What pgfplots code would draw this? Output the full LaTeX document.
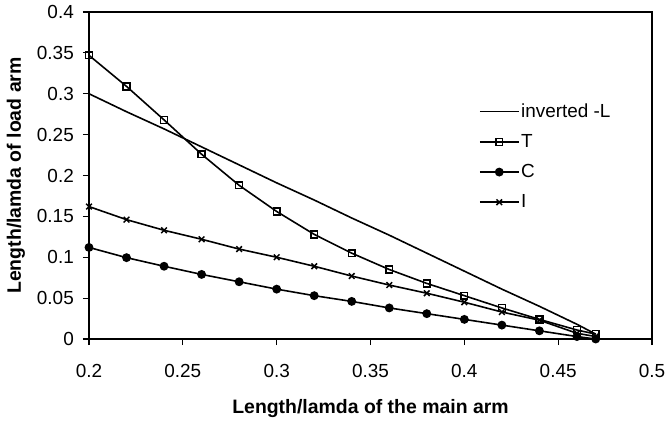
\documentclass[border=0pt]{standalone}
\usepackage{pgfplots}
\pgfplotsset{compat=1.18}
\usepackage{fontspec}
\setmainfont{Liberation Sans}
\begin{document}
\begin{tikzpicture}
\useasboundingbox (-89bp,-82bp) rectangle (579bp,339bp);
\begin{axis}[
  scale only axis,
  width=563bp, height=327bp,
  xmin=0.2, xmax=0.5, ymin=0, ymax=0.4,
  xtick={0.2,0.25,...,0.5},
  ytick={0,0.05,...,0.4},
  xticklabels={0.2,0.25,0.3,0.35,0.4,0.45,0.5},
  yticklabels={0,0.05,0.1,0.15,0.2,0.25,0.3,0.35,0.4},
  tick align=outside,
  major tick length=6bp,
  tick style={black, line width=1.2pt},
  xtick pos=bottom, ytick pos=left,
  axis line style={line width=1.5pt},
  every tick label/.append style={font=\fontsize{19}{22}\selectfont},
  xticklabel style={anchor=north, inner sep=0pt, yshift=-19bp},
  yticklabel style={anchor=east, inner sep=0pt, xshift=-9bp},
  label style={font=\fontsize{19.5}{23}\selectfont\bfseries},
  xlabel={Length/lamda of the main arm},
  ylabel={Length/lamda of load arm},
  xlabel style={at={(axis description cs:0.5,-0.2263)}, anchor=base},
  ylabel style={at={(axis description cs:-0.1297,0.5)}, anchor=center},
  legend style={at={(axis description cs:0.687,0.730)}, anchor=north west, draw=none, fill=none,
    font=\fontsize{19}{22}\selectfont, row sep=12.5bp,
    nodes={inner sep=1.5bp}, cells={anchor=west}},
  legend image code/.code={\draw[#1, mark repeat=2, mark phase=2] plot coordinates {(0bp,0bp) (19.5bp,0bp) (39bp,0bp)};},
]
\addplot[black, line width=1.6pt] coordinates {
(0.20,0.300) (0.22,0.278) (0.24,0.257) (0.26,0.235) (0.28,0.213) (0.30,0.191)
(0.32,0.170) (0.34,0.148) (0.36,0.127) (0.38,0.105) (0.40,0.083) (0.42,0.061)
(0.44,0.040) (0.46,0.018) (0.47,0.006)};
\addlegendentry{inverted -L}
\addplot[black, line width=1.6pt, mark=square, mark size=3.4bp, mark options={line width=1.5pt, fill=white}] coordinates {
(0.20,0.347) (0.22,0.309) (0.24,0.268) (0.26,0.226) (0.28,0.188) (0.30,0.156)
(0.32,0.128) (0.34,0.105) (0.36,0.085) (0.38,0.068) (0.40,0.053) (0.42,0.038)
(0.44,0.024) (0.46,0.011) (0.47,0.006)};
\addlegendentry{T}
\addplot[black, line width=1.6pt, mark=*, mark size=3.6bp] coordinates {
(0.20,0.112) (0.22,0.0995) (0.24,0.089) (0.26,0.079) (0.28,0.070) (0.30,0.061)
(0.32,0.053) (0.34,0.046) (0.36,0.038) (0.38,0.031) (0.40,0.024) (0.42,0.017)
(0.44,0.010) (0.46,0.003) (0.47,0.000)};
\addlegendentry{C}
\addplot[black, line width=1.6pt, mark=x, mark size=4bp, mark options={line width=1.5pt}] coordinates {
(0.20,0.162) (0.22,0.146) (0.24,0.133) (0.26,0.122) (0.28,0.110) (0.30,0.100)
(0.32,0.089) (0.34,0.077) (0.36,0.066) (0.38,0.056) (0.40,0.045) (0.42,0.033)
(0.44,0.023) (0.46,0.007) (0.47,0.003)};
\addlegendentry{I}
\end{axis}
\end{tikzpicture}
\end{document}
